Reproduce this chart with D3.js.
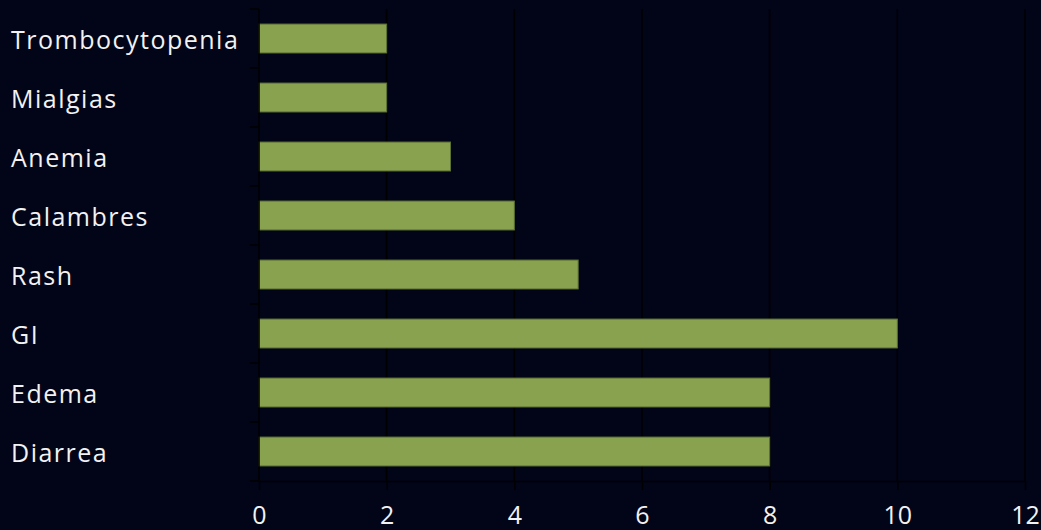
<!DOCTYPE html>
<html lang="en">
<head>
    <meta charset="UTF-8">
    <script src="https://cdn.jsdelivr.net/npm/d3@7"></script>
    <title>Efectos adversos</title>
    <style>
        body { margin: 0; background: #020418; }
        svg { display: block; }
        .lbl { font-family: "Open Sans", sans-serif; fill: #f2f2f2; font-weight: 500; }
    </style>
</head>
<body>
    <div id="chart"></div>
    <script>
        const categories = ["Trombocytopenia", "Mialgias", "Anemia", "Calambres", "Rash", "GI", "Edema", "Diarrea"];
        const values = [2, 2, 3, 4, 5, 10, 8, 8];
        const xTicks = [0, 2, 4, 6, 8, 10, 12];

        const width = 1041, height = 530;
        const margin = { top: 9, right: 16, bottom: 49, left: 259 };

        const svg = d3.select("#chart").append("svg")
            .attr("width", width)
            .attr("height", height);

        svg.append("rect").attr("width", width).attr("height", height).attr("fill", "#020418");

        const x = d3.scaleLinear().domain([0, 12]).range([margin.left, width - margin.right]);
        const y = d3.scaleBand().domain(categories).range([margin.top, height - margin.bottom]).paddingInner(0.51).paddingOuter(0.255);

        // vertical gridlines
        svg.append("g")
            .selectAll("line")
            .data(xTicks.slice(1))
            .join("line")
            .attr("x1", d => x(d)).attr("x2", d => x(d))
            .attr("y1", margin.top).attr("y2", height - margin.bottom)
            .attr("stroke", "#000").attr("stroke-width", 1.5);

        // bars
        svg.append("g")
            .selectAll("rect")
            .data(values)
            .join("rect")
            .attr("x", x(0))
            .attr("y", (d, i) => y(categories[i]))
            .attr("width", d => x(d) - x(0))
            .attr("height", y.bandwidth())
            .attr("fill", "#88a24f")
            .attr("stroke", "#5d7035")
            .attr("stroke-width", 1);

        // left axis with ticks at band boundaries
        const bounds = categories.map(c => y(c) - y.step() * y.paddingInner() / 2);
        bounds.push(height - margin.bottom);
        const left = svg.append("g");
        left.append("line")
            .attr("x1", x(0)).attr("x2", x(0))
            .attr("y1", margin.top).attr("y2", height - margin.bottom)
            .attr("stroke", "#000").attr("stroke-width", 1.5);
        left.selectAll(".tk")
            .data(bounds)
            .join("line")
            .attr("x1", x(0) - 9).attr("x2", x(0))
            .attr("y1", d => d).attr("y2", d => d)
            .attr("stroke", "#000").attr("stroke-width", 1.5);

        // bottom axis
        const xAxis = svg.append("g")
            .attr("transform", `translate(0,${height - margin.bottom})`)
            .call(d3.axisBottom(x).tickValues(xTicks).tickSize(9).tickSizeOuter(0).tickPadding(16));
        xAxis.select(".domain").attr("stroke", "#000").attr("stroke-width", 1.5);
        xAxis.selectAll(".tick line").attr("stroke", "#000").attr("stroke-width", 1.5);
        xAxis.selectAll(".tick text")
            .attr("class", "lbl")
            .style("font-size", "25px")
            .attr("fill", "#f2f2f2");

        // category labels
        svg.append("g")
            .selectAll("text")
            .data(categories)
            .join("text")
            .attr("class", "lbl")
            .attr("x", 11)
            .attr("y", d => y(d) + y.bandwidth() / 2)
            .attr("dy", "0.42em")
            .style("font-size", "25px")
            .style("letter-spacing", "1.5px")
            .text(d => d);
    </script>
</body>
</html>
